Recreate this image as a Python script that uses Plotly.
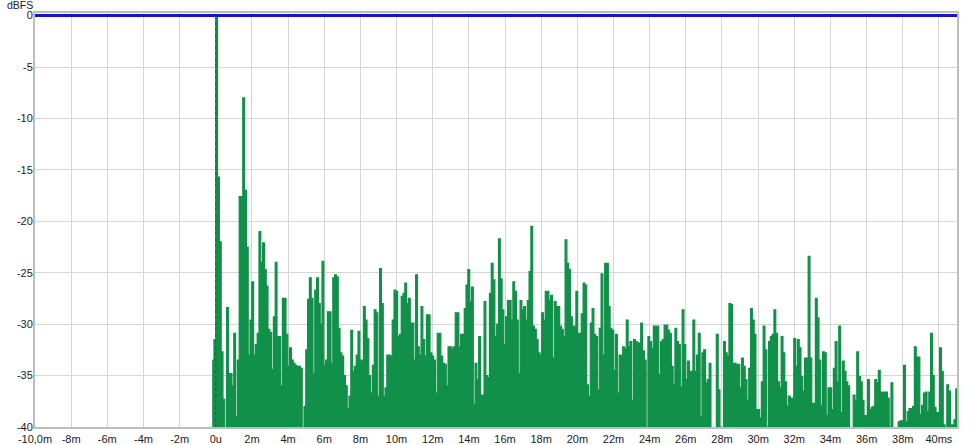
import numpy as np
import plotly.graph_objects as go

# impulse response level (dBFS), one value per sample
SAMPLE_MS = 0.0996
START_MS = -0.2

level_0_6ms = [
    -33.5, -31.5, 0, -15.7, -22, -32.7, -37.3, -41, -28.4, -34.8,
    -34.8, -36, -30.9, -39, -33.5, -17.6, -17.6, -8, -17, -22.5,
    -33, -29.6, -25.9, -33, -32, -30.9, -21, -24, -22.1, -24.7,
    -26.3, -30.5, -30.8, -34.4, -29.3, -24, -31.2, -31.2, -36, -27.5,
    -27.5, -31, -34.1, -32.3, -33.5, -33.8, -34, -34.1, -34.1, -34.3,
    -41, -38, -32.5, -27.6, -25.5, -27.5, -34.8, -26.7, -25.5, -28,
    -30, -23.9, -34, -33.5, -28.8,
]
level_6_13ms = [
    -28.8, -33.8, -25.5, -25.2, -25.4, -30.4, -32.8, -33.1, -35, -36,
    -38.2, -37, -30.6, -34.6, -34.1, -33, -30.7, -33.5, -33.5, -28.3,
    -29.6, -31.4, -35, -36.7, -34, -28.6, -28.9, -37, -24.6, -28,
    -37, -36.2, -33, -33, -33.1, -29.6, -26.7, -26.8, -31.2, -31,
    -27.3, -27, -26, -28, -27.5, -29.9, -29.9, -33.5, -25.2, -32.2,
    -33, -28.3, -31.5, -33.1, -29.1, -29.1, -32.8, -33.1, -33.5, -36.7,
    -30.9, -30.9, -33.1, -33.8, -33.9, -36, -32.2, -32.2, -32.4,
]
level_13_20ms = [
    -32.2, -28.9, -28.9, -32.2, -31, -31, -28.5, -26.2, -24.7, -27.8,
    -26.4, -37.8, -33.8, -35.4, -31.2, -36.9, -36.9, -27.8, -35, -35.2,
    -27, -24.1, -25.7, -31.2, -30, -21.7, -25.6, -28.6, -32, -29.3,
    -27.7, -27.7, -29.6, -25.9, -26.8, -29.6, -34.8, -27.7, -28.6, -28.3,
    -29.6, -27.7, -24.9, -20.5, -30.2, -30.5, -31.5, -32.8, -33, -28.9,
    -29.6, -26.8, -26.8, -27.7, -27.2, -33.3, -27.8, -28.3, -28.3, -30.2,
    -30.5, -31.2, -21.8, -24.1, -24.7, -29.3, -30.2, -30.2, -26.8, -30.9,
]
level_20_27ms = [
    -30.9, -29, -26, -26.2, -35.9, -37, -29.9, -28.5, -31, -31.2,
    -36.4, -30.4, -25.1, -33, -24.1, -24.1, -28.3, -30.4, -30.6, -34.5,
    -31, -36.7, -33, -33, -32.2, -32.4, -29.6, -32.2, -31.7, -37.4,
    -31.5, -31.7, -31.8, -31.9, -29.9, -32.6, -33.5, -40.5, -31.2, -31.7,
    -32.4, -30.2, -30.2, -30.2, -34.9, -31.7, -31.5, -30.1, -30.1, -30.6,
    -30.9, -34.1, -35.9, -30.4, -31.7, -32, -36.1, -28.6, -32, -35.4,
    -33.6, -34.6, -34.6, -29.6, -34.6, -33, -30.9, -39, -32.8,
]
level_27_34ms = [
    -32.5, -35.7, -35.4, -33.8, -41, -41, -41, -31, -36.4, -40,
    -41, -31.7, -32.8, -33.1, -28, -28.1, -33.8, -33.8, -33.9, -33.9,
    -36.2, -33.3, -34.1, -35.4, -37.4, -34.3, -28.5, -29.6, -31, -38.3,
    -38.3, -39.1, -35.6, -30.2, -32.5, -40, -31.7, -31.2, -31, -28.6,
    -30.9, -35.6, -36.2, -31.2, -32.8, -35.6, -38, -37, -37.2, -37.2,
    -31.4, -34.1, -31.5, -32.3, -35.1, -36.5, -33.3, -33.3, -23.4, -33.3,
    -37.7, -37.7, -27.5, -29.4, -33.5, -37.9, -32.7, -32.8, -38.9, -36.2,
]
level_34_41ms = [
    -36.2, -38.3, -34.3, -31.7, -35.6, -30.2, -38.6, -33.6, -34.6, -35.6,
    -36, -40.5, -40.5, -36.9, -37.4, -32.7, -35.1, -35.6, -37.4, -38.9,
    -38.9, -35.4, -38.3, -38.1, -38, -35.4, -35.7, -34.5, -36.6, -36.6,
    -36.6, -36.6, -37.2, -40, -35.7, -41, -41, -41, -39.5, -39.4,
    -39.4, -34, -39.5, -38.5, -38.2, -38.2, -38, -32.2, -33.2, -33.2,
    -38.8, -37.9, -36.7, -36.6, -38.5, -36.6, -30.9, -35, -38.1, -38.6,
    -38.6, -32.3, -34.6, -39.8, -41, -35.9, -36.5, -39.8, -39.8, -39.3,
    -36.3, -36.3,
]

x_ticks = list(range(-10, 41, 2))
x_tick_text = ["-10,0m", "-8m", "-6m", "-4m", "-2m", "0u"] + \
    [f"{v}m" for v in range(2, 40, 2)] + ["40ms"]
y_ticks = list(range(0, -41, -5))
y_tick_text = [str(v) for v in y_ticks]

level_db = level_0_6ms + level_6_13ms + level_13_20ms + level_20_27ms + \
    level_27_34ms + level_34_41ms
time_ms = START_MS + SAMPLE_MS * np.arange(len(level_db))

X_MIN, X_MAX = -10, 41.0
Y_MIN, Y_MAX = -40, 0.25

fig = go.Figure()

# floor for the fill
fig.add_trace(go.Scatter(x=[time_ms[0], time_ms[-1]], y=[Y_MIN, Y_MIN],
                         mode="lines", line=dict(width=0, color="#109048"),
                         showlegend=False, hoverinfo="skip"))
fig.add_trace(go.Scatter(x=time_ms, y=level_db, mode="lines",
                         line=dict(color="#109048", width=1.2, shape="hv"),
                         fill="tonexty", fillcolor="#109048",
                         showlegend=False, hoverinfo="skip"))
# 0 dBFS reference line
fig.add_trace(go.Scatter(x=[X_MIN, X_MAX], y=[0, 0], mode="lines",
                         line=dict(color="#1414c8", width=3),
                         showlegend=False, hoverinfo="skip"))

fig.add_shape(type="line", x0=0, x1=0, y0=Y_MIN, y1=0, layer="above",
              line=dict(color="#6e3a30", width=1, dash="dot"))

fig.add_annotation(text="dBFS", xref="paper", yref="paper", x=0, y=1,
                   xanchor="center", yanchor="middle", xshift=-15, yshift=8,
                   showarrow=False, font=dict(size=10.5, color="#222"))

axis_common = dict(showline=True, linecolor="#bdbdbd", linewidth=2, mirror=True,
                   showgrid=True, gridcolor="#d6d6d6", gridwidth=1,
                   zeroline=False, ticks="", fixedrange=True, automargin=False)

fig.update_xaxes(range=[X_MIN, X_MAX], tickmode="array", tickvals=x_ticks,
                 ticktext=x_tick_text, ticklabelstandoff=1, **axis_common)
fig.update_yaxes(range=[Y_MIN, Y_MAX], tickmode="array", tickvals=y_ticks,
                 ticktext=y_tick_text, ticklabelstandoff=-2, **axis_common)

fig.update_layout(
    width=975, height=445,
    margin=dict(l=35, r=18, t=13, b=18, autoexpand=False),
    paper_bgcolor="white", plot_bgcolor="white",
    font=dict(family="Liberation Sans, Arial, sans-serif", size=11, color="#222"),
    showlegend=False,
)

# page has a default body margin; drop it so the chart sits at the window corner
fig.write_html("out.html", config={"displayModeBar": False},
               post_script="document.body.style.margin='0';"
                           "document.body.style.overflow='hidden';")
